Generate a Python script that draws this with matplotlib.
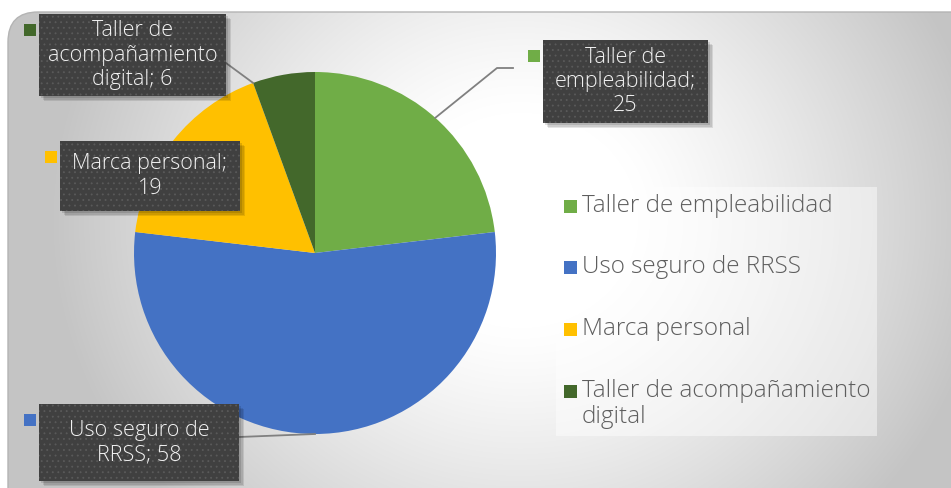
import textwrap
import numpy as np
import matplotlib.pyplot as plt
from matplotlib.patches import Rectangle, FancyBboxPatch

categories = ["Taller de empleabilidad", "Uso seguro de RRSS", "Marca personal",
              "Taller de acompañamiento digital"]
values = [25, 58, 19, 6]
colors = ["#70AD47", "#4472C4", "#FFC000", "#43682B"]

W, H = 951, 488
plt.rcParams["font.family"] = ["Open Sans", "DejaVu Sans"]
plt.rcParams["hatch.linewidth"] = 0.6


def py(y):
    # pixel row (from top) -> data y
    return H - y


fig = plt.figure(figsize=(W / 100, H / 100), dpi=100)
ax = fig.add_axes([0, 0, 1, 1])

# chart area with rounded corner and soft radial gradient
frame = FancyBboxPatch((8, -30), W + 30, py(12) + 30,
                       boxstyle="round,pad=0,rounding_size=30",
                       facecolor="none", edgecolor="#B4B4B4", lw=1, zorder=1)
ax.add_patch(frame)
yy, xx = np.mgrid[0:H, 0:W]
d = np.sqrt(((xx - 520) / 470.0) ** 2 + ((yy - 220) / 430.0) ** 2)
g = np.clip((d - 0.25) / 0.75, 0, 1) ** 1.2
shade = 1 - g * (1 - 0.77)
img = np.dstack([shade, shade, shade])
im = ax.imshow(img, extent=(0, W, 0, H), origin="upper", zorder=0,
               interpolation="bilinear")
im.set_clip_path(frame)

# pie
cx, cy, r = 315, py(253), 181
wedges, _ = ax.pie(values, colors=colors, startangle=90, counterclock=False,
                   center=(cx, cy), radius=r, frame=True,
                   wedgeprops=dict(linewidth=0, zorder=2))

tot = sum(values)
cum = np.concatenate([[0], np.cumsum(values)])
theta_start = 90 - cum[:-1] / tot * 360
theta_end = 90 - cum[1:] / tot * 360

# data label boxes (pixel coords from top): x0, y0, x1, y1
boxes = [(543, 40, 708, 123), (39, 404, 239, 481), (60, 141, 240, 211), (39, 14, 226, 96)]
wraps = [14, 14, 15, 14]
anchor_frac = [0.5, 0.5, None, 0.0]
elbows = [[(497, 68), (513, 68)], [(239, 437)], [], [(226, 63)]]

for i, (cat, val) in enumerate(zip(categories, values)):
    x0, y0, x1, y1 = boxes[i]
    # leader line
    if anchor_frac[i] is not None:
        th = np.radians(theta_start[i] + anchor_frac[i] * (theta_end[i] - theta_start[i]))
        pts = [(cx + r * np.cos(th), cy + r * np.sin(th))] + [(x, py(y)) for x, y in elbows[i]]
        ax.plot([p[0] for p in pts], [p[1] for p in pts], color="#808080", lw=1.3, zorder=3)
    # shadow
    for k, a in enumerate([0.10, 0.10, 0.12]):
        off = 5 - k * 1.5
        ax.add_patch(Rectangle((x0 + off, py(y1) - off), x1 - x0, y1 - y0,
                               facecolor="black", alpha=a, lw=0, zorder=4))
    ax.add_patch(Rectangle((x0, py(y1)), x1 - x0, y1 - y0, facecolor="#404040",
                           edgecolor="#5A5A5A", hatch="...", lw=0, zorder=5))
    # colour key square
    ax.add_patch(Rectangle((x0 - 15, py(y0 + 22)), 12, 12, facecolor=colors[i], lw=0, zorder=5))
    ax.text((x0 + x1) / 2, py((y0 + y1) / 2), textwrap.fill(f"{cat}; {val}", wraps[i]),
            ha="center", va="center", color="#F2F2F2", fontsize=15.5,
            fontweight="light", linespacing=1.2, zorder=6)

# legend
ax.add_patch(Rectangle((556, py(436)), 877 - 556, 436 - 187, facecolor="white",
                       alpha=0.45, lw=0, zorder=2))
leg_y = [206, 267, 329, 391]
for i, cat in enumerate(categories):
    ax.add_patch(Rectangle((564, py(leg_y[i]) - 6.5), 13, 13, facecolor=colors[i],
                           lw=0, zorder=3))
    ax.text(582, py(leg_y[i] - 12), textwrap.fill(cat, 24), ha="left", va="top",
            color="#5E5E5E", fontsize=17.5, fontweight="light", linespacing=1.12, zorder=3)

ax.set_xlim(0, W)
ax.set_ylim(0, H)
ax.axis("off")

fig.savefig("out.png", dpi=100, facecolor="white")
